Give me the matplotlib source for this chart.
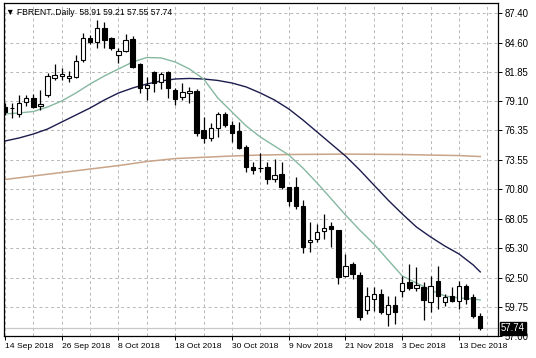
import numpy as np
import matplotlib
matplotlib.use("Agg")
from matplotlib import pyplot as plt
from matplotlib import transforms

plt.rcParams['font.family'] = ['Liberation Sans', 'DejaVu Sans']

# daily candles
opens = [78.58, 78.50, 77.92, 79.05, 79.42, 78.67, 79.71, 81.30, 81.49, 81.30,
         81.39, 82.99, 85.05, 84.68, 85.99, 85.05, 83.46, 83.83, 84.96, 82.61,
         80.36, 81.86, 80.93, 81.86, 80.17, 79.52, 79.89, 80.08, 76.42, 75.67,
         76.61, 77.92, 76.89, 76.33, 74.83, 72.95, 72.80, 72.95, 71.82, 72.29,
         70.98, 71.07, 69.20, 65.82, 66.10, 66.85, 67.32, 66.95, 62.63, 63.76,
         62.72, 59.44, 60.47, 60.94, 59.06, 59.91, 61.22, 62.07, 61.50, 61.60,
         60.19, 62.16, 60.19, 60.75, 60.28, 61.69, 60.66, 58.91]
highs = [78.96, 78.96, 79.71, 79.71, 79.80, 80.17, 81.77, 82.61, 82.24, 81.96,
         83.46, 85.52, 85.34, 86.74, 86.56, 85.15, 84.12, 85.43, 85.24, 82.71,
         81.39, 81.90, 81.86, 81.90, 80.36, 80.83, 80.46, 80.27, 77.64, 77.08,
         78.11, 78.11, 77.27, 77.17, 75.01, 73.33, 74.26, 73.33, 73.63, 73.33,
         71.07, 72.01, 69.76, 67.69, 67.51, 68.45, 67.69, 67.00, 64.69, 63.94,
         63.00, 61.60, 61.60, 61.41, 60.75, 60.75, 62.63, 63.76, 63.47, 62.07,
         62.63, 63.57, 60.94, 61.60, 62.16, 61.88, 60.94, 59.21]
lows = [77.83, 77.55, 77.64, 78.67, 78.49, 78.30, 79.52, 81.11, 81.11, 80.93,
        81.30, 82.80, 84.49, 84.12, 84.12, 83.93, 82.71, 83.74, 82.24, 79.89,
        79.24, 79.99, 80.27, 79.42, 78.77, 79.24, 78.96, 75.86, 75.20, 75.39,
        75.77, 76.70, 75.30, 74.60, 72.48, 72.20, 72.39, 71.26, 71.45, 70.79,
        69.20, 68.92, 64.79, 64.88, 65.82, 66.10, 65.35, 61.88, 62.54, 62.35,
        58.50, 59.06, 59.35, 59.06, 57.94, 58.12, 60.66, 61.32, 61.22, 58.50,
        59.25, 59.53, 59.81, 60.19, 59.53, 60.00, 58.69, 57.55]
closes = [78.11, 78.45, 78.96, 79.42, 78.58, 78.86, 81.49, 81.58, 81.68, 81.49,
          82.90, 85.05, 84.68, 85.99, 84.87, 84.12, 83.83, 84.87, 82.33, 80.36,
          80.64, 80.83, 81.68, 80.36, 79.33, 79.99, 80.08, 76.14, 75.67, 76.61,
          77.92, 76.89, 76.14, 74.73, 72.86, 72.58, 72.77, 71.82, 72.11, 70.98,
          69.67, 69.20, 65.35, 66.01, 66.76, 67.13, 67.04, 62.54, 63.57, 62.82,
          58.78, 60.75, 60.94, 59.25, 59.91, 59.25, 61.97, 61.50, 61.78, 60.38,
          61.69, 60.75, 60.66, 60.28, 61.69, 60.47, 58.88, 57.74]

# moving average lines, read every other bar
ma_idx = [0, 2, 4, 6, 8, 10, 12, 14, 16, 18, 20, 22, 24, 26, 28, 30, 32, 34,
          36, 38, 40, 42, 44, 46, 48, 50, 52, 54, 56, 58, 60, 62, 64, 66, 67]
ma_fast = [77.90, 77.99, 78.13, 78.55, 79.12, 79.87, 80.72, 81.47, 82.13, 82.79,
           83.21, 83.17, 82.79, 82.13, 81.19, 79.40, 78.08, 76.77, 75.73, 74.88,
           74.04, 72.81, 71.40, 69.90, 68.39, 66.98, 65.66, 64.16, 62.65, 61.99,
           61.33, 60.77, 60.58, 60.49, 60.39]
ma_mid = [75.35, 75.64, 76.01, 76.48, 77.14, 77.80, 78.46, 79.21, 79.87, 80.34,
          80.72, 81.00, 81.19, 81.24, 81.19, 81.05, 80.81, 80.44, 79.87, 79.21,
          78.37, 77.33, 76.20, 75.07, 73.94, 72.63, 71.21, 69.80, 68.49, 67.26,
          66.32, 65.47, 64.72, 63.69, 63.03]
slow_idx = [0, 8, 16, 20, 24, 32, 36, 40, 48, 56, 64, 67]
ma_slow = [71.73, 72.39, 73.04, 73.42, 73.70, 73.94, 74.03, 74.08, 74.12, 74.08,
           73.98, 73.89]

date_labels = ["14 Sep 2018", "26 Sep 2018", "8 Oct 2018", "18 Oct 2018",
               "30 Oct 2018", "9 Nov 2018", "21 Nov 2018", "3 Dec 2018",
               "13 Dec 2018"]
price_ticks = [87.40, 84.60, 81.85, 79.10, 76.35, 73.55, 70.80, 68.05, 65.30,
               62.50, 59.75, 57.00]
title = "\u25bc FBRENT..Daily  58.91 59.21 57.55 57.74"

W, H = 536, 358
fig = plt.figure(figsize=(W / 100, H / 100), dpi=100)
ax = fig.add_axes([3.5 / W, (H - 336) / H, (498 - 3.5) / W, (336 - 3) / H])

n = len(closes)
x = np.arange(n)
o = np.array(opens)
c = np.array(closes)

# grid: dashed, every 4 bars and at every price label
for gx in range(0, 72, 4):
    ax.axvline(gx, color="#b8b8b8", lw=0.7, ls=(0, (3, 3)), zorder=0)
for gy in price_ticks:
    ax.axhline(gy, color="#b8b8b8", lw=0.7, ls=(0, (3, 3)), zorder=0)

# bid line
ax.axhline(closes[-1], color="#c8c8c8", lw=0.9, zorder=1)

# moving averages
ax.plot(slow_idx, ma_slow, color="#c9a488", lw=1.1, zorder=2)
ax.plot(ma_idx, ma_mid, color="#1c1c4e", lw=1.0, zorder=2)
ax.plot(ma_idx, ma_fast, color="#86b8a0", lw=1.0, zorder=2)

# candles
ax.vlines(x, lows, highs, color="black", lw=0.9, zorder=3)
bottoms = np.minimum(o, c)
heights = np.maximum(np.abs(c - o), 0.04)
faces = ["white" if cc >= oo else "black" for oo, cc in zip(o, c)]
ax.bar(x, heights, bottom=bottoms, width=0.62, color=faces,
       edgecolor="black", linewidth=0.8, zorder=4)

ax.set_xlim(-0.21, 69.5)
ax.set_ylim(57.0, 88.34)

# axes styling
for s in ax.spines.values():
    s.set_color("black")
    s.set_linewidth(0.9)
ax.yaxis.tick_right()
ax.set_yticks(price_ticks)
ax.set_yticklabels([f"{v:.2f}" for v in price_ticks])
ax.tick_params(axis="y", direction="out", length=3, width=0.7, pad=2,
               labelsize=6.9, colors="black")
ax.set_xticks(range(0, 8 * len(date_labels), 8))
ax.set_xticklabels(date_labels, ha="left")
ax.tick_params(axis="x", direction="out", length=3, width=0.7, pad=2,
               labelsize=6.1, colors="black")

# title
ax.text(0.006, 0.985, title, transform=ax.transAxes, ha="left", va="top",
        fontsize=6.2, color="black", zorder=5)

# current price tag
trans = transforms.blended_transform_factory(ax.transAxes, ax.transData)
ax.text(1.006, closes[-1], f"{closes[-1]:.2f}", transform=trans, ha="left",
        va="center", fontsize=6.9, color="white", zorder=6, clip_on=False,
        bbox=dict(boxstyle="square,pad=0.15", fc="black", ec="black"))

fig.savefig("out.png", dpi=100)
